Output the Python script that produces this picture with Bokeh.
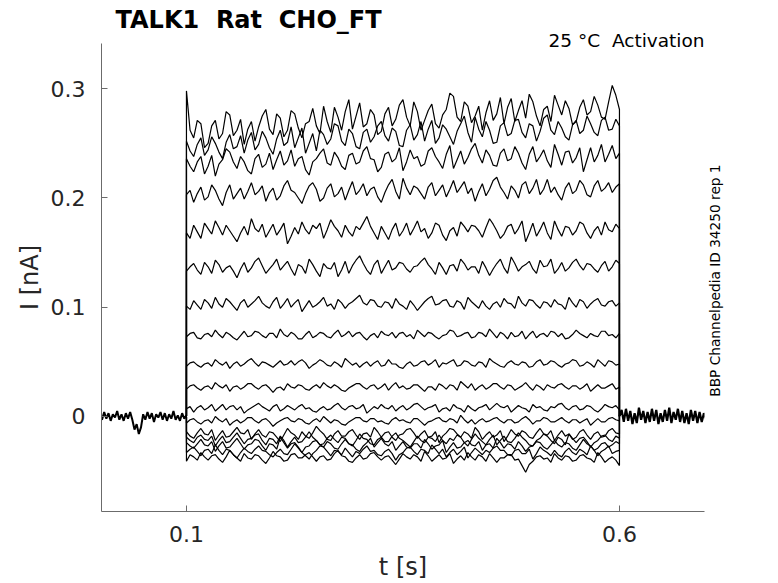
import numpy as np
from bokeh.plotting import figure
from bokeh.models import FixedTicker, Range1d, ColumnDataSource, LinearAxis, Title
from bokeh.embed import file_html
from bokeh.resources import INLINE

# ---------------- texts / ticks ----------------
title_text = "TALK1  Rat  CHO_FT"
condition_text = "25 \u00b0C  Activation"
source_text = "BBP Channelpedia ID 34250 rep 1"
x_label = "t [s]"
y_label = "I [nA]"
x_ticks = [0.1, 0.6]
x_tick_labels = ["0.1", "0.6"]
y_ticks = [0.0, 0.1, 0.2, 0.3]
y_tick_labels = ["0", "0.1", "0.2", "0.3"]

# ---------------- timing (s) ----------------
record_start = 0.0
step_start = 0.1
step_end = 0.6
record_end = 0.7

# ---------------- currents (pA) ----------------
baseline_pre_pA = [1, -3, 4, -2, 3, -4, 2, -1, 5, -3, 2, -4, 3, -2, 4,
                   -3, -12, -7, -16, -10, 2,
                   -3, 4, -2, 3, -5, 2, -1, 4, -3, 3, -4, 2, -2, 5, -3, 1, -4, 3, -2, 1]
baseline_post_pA = [0, 6, -5, 7, -4, 5, -7, 3, -6, 8, -3, 5, -6, 4, -5, 7, -4, 6, -7, 3,
                    -5, 6, -4, 8, -6, 4, -3, 7, -5, 5, -6, 3, -7, 6, -4, 5, -6, 4, -5, 3, -2]

sweep_01_pA = [298, 262, 255, 271, 268, 246, 250, 266, 271, 254, 259, 279, 276, 257, 262, 272, 249, 263, 270, 252,
               265, 275, 281, 263, 258, 277, 273, 256, 262, 280, 277, 264, 255, 268, 270, 282, 266, 259, 284, 270,
               260, 283, 274, 262, 279, 290, 263, 275, 287, 265, 268, 281, 276, 258, 261, 277, 283, 266, 272, 285,
               290, 274, 266, 288, 279, 262, 271, 280, 286, 268, 264, 276, 281, 296, 293, 274, 270, 288, 284, 269,
               275, 284, 262, 278, 289, 271, 277, 292, 268, 283, 291, 270, 280, 289, 273, 295, 288, 275, 266, 281,
               284, 270, 294, 285, 276, 289, 282, 267, 270, 283, 290, 276, 279, 293, 285, 274, 272, 288, 303, 294, 281]
sweep_02_pA = [252, 243, 238, 249, 255, 239, 244, 256, 250, 242, 236, 251, 258, 245, 247, 257, 241, 253, 260, 244,
               249, 261, 255, 246, 240, 254, 262, 248, 251, 265, 246, 255, 264, 241, 250, 259, 243, 262, 258, 249,
               254, 268, 266, 252, 248, 263, 259, 247, 245, 260, 263, 251, 256, 266, 270, 257, 252, 264, 261, 248,
               247, 262, 267, 253, 258, 270, 252, 263, 271, 250, 255, 267, 263, 256, 249, 261, 268, 275, 260, 251,
               274, 263, 256, 270, 262, 250, 251, 266, 269, 257, 259, 271, 272, 260, 255, 268, 266, 252, 261, 273,
               276, 262, 258, 270, 264, 256, 253, 267, 271, 259, 262, 275, 268, 260, 257, 271, 274, 262, 263, 272, 266]
sweep_03_pA = [236, 229, 224, 233, 238, 222, 229, 239, 220, 231, 235, 245, 242, 233, 227, 238, 233, 225, 222, 236,
               240, 228, 231, 241, 226, 235, 243, 230, 234, 244, 229, 236, 238, 226, 221, 233, 236, 241, 245, 232,
               230, 242, 237, 229, 226, 239, 241, 231, 233, 243, 247, 236, 235, 224, 228, 240, 242, 233, 236, 246,
               225, 233, 244, 236, 238, 229, 231, 243, 246, 238, 233, 227, 240, 248, 227, 235, 243, 231, 237, 245,
               250, 239, 232, 244, 239, 230, 229, 241, 245, 234, 236, 247, 241, 232, 226, 240, 247, 233, 238, 244,
               234, 228, 249, 240, 230, 242, 243, 232, 237, 246, 224, 235, 246, 233, 239, 249, 233, 240, 248, 236, 241]
sweep_04_pA = [203, 207, 196, 204, 210, 198, 201, 212, 207, 199, 193, 205, 212, 199, 204, 209, 199, 206, 214, 203,
               206, 211, 197, 205, 209, 198, 202, 211, 216, 207, 205, 200, 195, 204, 211, 214, 208, 197, 200, 209,
               213, 201, 204, 210, 198, 207, 215, 203, 207, 213, 202, 208, 210, 201, 196, 205, 212, 217, 206, 199,
               218, 209, 203, 211, 209, 204, 199, 210, 214, 202, 207, 212, 201, 208, 216, 205, 210, 215, 204, 209,
               197, 206, 213, 202, 208, 216, 219, 210, 205, 199, 211, 207, 200, 212, 215, 204, 209, 217, 203, 208,
               217, 205, 210, 203, 198, 209, 214, 204, 207, 216, 212, 203, 201, 211, 216, 206, 209, 214, 205, 210, 213]
sweep_05_pA = [168, 163, 175, 169, 163, 177, 172, 167, 179, 173, 166, 175, 170, 165, 160, 168, 174, 166, 181, 172,
               169, 176, 164, 170, 176, 166, 171, 177, 158, 165, 173, 167, 178, 171, 167, 175, 172, 177, 163, 171,
               180, 174, 170, 164, 175, 169, 165, 174, 171, 177, 183, 174, 168, 162, 174, 168, 162, 171, 177, 165,
               170, 177, 166, 172, 179, 169, 172, 163, 168, 177, 175, 166, 161, 170, 173, 165, 178, 174, 169, 175,
               174, 170, 164, 173, 181, 176, 170, 163, 167, 174, 176, 167, 172, 179, 160, 168, 177, 165, 171, 178,
               168, 162, 179, 171, 165, 174, 173, 166, 170, 178, 176, 168, 163, 170, 174, 166, 178, 171, 169, 176, 172]
sweep_06_pA = [133, 137, 140, 134, 130, 141, 137, 131, 143, 139, 132, 136, 138, 133, 127, 135, 141, 132, 136, 142,
               145, 138, 131, 135, 139, 144, 134, 138, 142, 135, 129, 139, 137, 131, 144, 139, 133, 128, 140, 136,
               135, 141, 128, 134, 142, 131, 138, 143, 147, 140, 134, 130, 139, 143, 131, 137, 143, 134, 136, 141,
               140, 135, 132, 137, 138, 142, 145, 139, 135, 130, 141, 136, 130, 138, 139, 133, 144, 140, 134, 137,
               137, 131, 142, 136, 129, 135, 140, 144, 136, 131, 146, 140, 133, 137, 139, 142, 135, 131, 143, 137,
               138, 144, 131, 135, 141, 133, 136, 141, 144, 138, 134, 140, 139, 135, 132, 138, 142, 133, 137, 143, 140]
sweep_07_pA = [101, 98, 106, 102, 98, 107, 104, 99, 109, 103, 100, 108, 105, 101, 97, 104, 107, 100, 103, 106,
               110, 104, 101, 99, 105, 109, 99, 103, 108, 100, 104, 107, 96, 101, 106, 100, 102, 105, 109, 101,
               103, 98, 107, 104, 99, 103, 105, 108, 111, 104, 102, 107, 106, 101, 100, 105, 104, 99, 108, 103,
               101, 98, 106, 102, 97, 101, 105, 108, 110, 102, 103, 106, 107, 101, 100, 106, 104, 98, 109, 105,
               102, 99, 106, 101, 98, 103, 105, 100, 108, 104, 103, 99, 110, 104, 101, 107, 106, 102, 99, 105,
               104, 100, 107, 103, 102, 98, 109, 104, 100, 107, 105, 99, 103, 106, 108, 102, 101, 105, 106, 101, 104]
sweep_08_pA = [73, 76, 77, 72, 71, 75, 76, 73, 79, 75, 72, 77, 75, 72, 70, 74, 78, 73, 74, 78,
               77, 74, 72, 76, 76, 72, 80, 75, 73, 77, 75, 71, 71, 75, 78, 72, 74, 77, 76, 73,
               72, 76, 79, 73, 75, 78, 73, 76, 77, 73, 70, 74, 76, 72, 78, 75, 74, 77, 72, 76,
               77, 73, 75, 71, 79, 76, 73, 77, 76, 73, 71, 74, 75, 79, 78, 73, 74, 76, 77, 72,
               73, 77, 76, 73, 80, 76, 72, 77, 75, 71, 77, 73, 74, 78, 71, 75, 78, 72, 75, 76,
               73, 78, 77, 73, 76, 71, 72, 75, 79, 76, 74, 72, 76, 74, 73, 78, 78, 74, 75, 72, 76]
sweep_09_pA = [46, 49, 50, 47, 45, 48, 49, 46, 52, 49, 47, 50, 44, 48, 50, 46, 48, 51, 53, 49,
               46, 50, 49, 47, 45, 48, 51, 47, 48, 51, 47, 50, 52, 49, 44, 47, 49, 52, 50, 47,
               46, 50, 48, 45, 53, 50, 47, 49, 45, 48, 50, 46, 49, 51, 46, 47, 52, 48, 48, 45,
               44, 48, 50, 46, 47, 50, 51, 47, 49, 52, 45, 49, 48, 50, 52, 46, 47, 51, 50, 47,
               46, 50, 49, 45, 53, 50, 48, 46, 45, 49, 51, 48, 47, 50, 49, 45, 46, 50, 52, 47,
               48, 51, 50, 47, 45, 48, 49, 52, 51, 46, 47, 50, 48, 45, 52, 49, 46, 51, 50, 47, 48]
sweep_10_pA = [25, 28, 29, 26, 24, 27, 28, 25, 31, 28, 26, 29, 23, 27, 28, 25, 27, 30, 30, 27,
               25, 28, 29, 26, 22, 26, 27, 24, 30, 27, 26, 29, 28, 25, 24, 27, 29, 26, 31, 28,
               26, 29, 27, 24, 23, 26, 28, 30, 30, 27, 25, 28, 29, 25, 27, 30, 24, 28, 31, 26,
               28, 25, 26, 29, 29, 26, 23, 27, 27, 24, 30, 28, 25, 29, 28, 24, 32, 29, 26, 30,
               24, 27, 29, 25, 27, 30, 30, 27, 25, 29, 28, 24, 26, 28, 31, 27, 24, 29, 27, 24,
               29, 27, 26, 29, 30, 27, 25, 28, 28, 25, 27, 30, 23, 26, 29, 26, 26, 28, 30, 25, 27]
sweep_11_pA = [7, 9, 4, 8, 10, 6, 8, 11, 5, 8, 11, 6, 9, 10, 6, 9, 3, 6, 8, 10,
               12, 9, 7, 5, 9, 11, 5, 7, 10, 8, 6, 9, 11, 7, 8, 5, 4, 7, 9, 6,
               7, 10, 12, 8, 6, 9, 10, 7, 8, 11, 3, 6, 9, 7, 11, 8, 7, 10, 5, 8,
               10, 6, 8, 11, 12, 9, 6, 8, 9, 11, 4, 7, 8, 5, 11, 8, 7, 4, 10, 7,
               5, 8, 9, 11, 6, 9, 12, 9, 8, 10, 4, 7, 10, 8, 7, 4, 11, 8, 9, 6,
               5, 9, 8, 11, 12, 8, 6, 9, 10, 6, 7, 10, 9, 6, 4, 7, 11, 9, 8, 10, 6]
sweep_12_pA = [-6, -3, -2, -5, -7, -4, -3, -6, 0, -3, -5, -2, -8, -5, -3, -6, -4, -1, -1, -4,
               -6, -3, -2, -5, -9, -6, -4, -2, -1, -4, -5, -2, -3, -6, -7, -4, -2, -5, 0, -3,
               -6, -3, -4, -7, -8, -5, -3, -1, -1, -4, -5, -2, -2, -5, -4, -6, -7, -3, -1, -4,
               -3, -5, -6, -2, -2, -5, -8, -5, -4, -2, -1, -4, -5, -2, -3, -6, 1, -3, -6, -3,
               -7, -4, -2, -5, -4, -2, -1, -4, -6, -3, -3, -6, -5, -2, 0, -3, -7, -4, -4, -1,
               -2, -5, -5, -3, -1, -4, -6, -3, -3, -6, -4, -2, -8, -5, -2, -5, -5, -2, -1, -3, -4]
sweep_13_pA = [-14, -18, -20, -15, -11, -16, -17, -12, -22, -17, -13, -19, -18, -14, -10, -15, -16, -12, -21, -16,
               -12, -17, -19, -14, -15, -19, -23, -17, -11, -15, -17, -21, -14, -18, -20, -15, -9, -13, -16, -21,
               -22, -16, -13, -18, -18, -14, -12, -17, -21, -16, -15, -19, -10, -14, -19, -15, -14, -19, -22, -17,
               -16, -12, -11, -15, -20, -16, -13, -19, -18, -14, -24, -18, -15, -11, -12, -16, -19, -14, -16, -20,
               -10, -14, -21, -17, -14, -19, -17, -13, -23, -18, -12, -16, -18, -13, -15, -19, -20, -15, -11, -16,
               -17, -13, -22, -17, -13, -18, -16, -21, -19, -14, -12, -17, -21, -16, -14, -19, -18, -13, -11, -15, -16]
sweep_14_pA = [-19, -22, -24, -19, -17, -21, -22, -18, -27, -22, -18, -24, -23, -19, -15, -20, -25, -21, -20, -17,
               -16, -22, -26, -20, -21, -25, -18, -22, -28, -23, -19, -24, -23, -19, -14, -19, -22, -26, -25, -20,
               -17, -21, -24, -19, -20, -25, -27, -22, -16, -20, -21, -25, -26, -21, -19, -23, -23, -18, -15, -20,
               -22, -25, -28, -23, -18, -22, -24, -19, -20, -23, -17, -22, -25, -20, -22, -17, -19, -24, -27, -21,
               -16, -20, -23, -26, -21, -17, -26, -22, -18, -23, -24, -20, -15, -19, -22, -26, -27, -22, -20, -16,
               -18, -22, -25, -19, -21, -26, -16, -20, -24, -20, -19, -23, -28, -24, -22, -18, -17, -21, -23, -18, -20]
sweep_15_pA = [-24, -27, -29, -25, -21, -26, -27, -23, -32, -27, -23, -29, -28, -24, -20, -25, -30, -26, -25, -21,
               -22, -27, -31, -25, -26, -30, -19, -24, -29, -25, -24, -28, -33, -28, -27, -23, -22, -26, -28, -23,
               -25, -29, -30, -25, -21, -25, -26, -30, -32, -27, -24, -20, -28, -24, -20, -25, -27, -23, -31, -27,
               -23, -28, -29, -25, -25, -29, -21, -25, -30, -27, -26, -22, -33, -28, -24, -29, -28, -24, -22, -26,
               -27, -23, -31, -26, -25, -29, -20, -24, -29, -25, -26, -30, -23, -27, -32, -28, -27, -23, -24, -28,
               -30, -26, -22, -26, -28, -24, -25, -29, -31, -26, -21, -25, -27, -31, -29, -25, -24, -28, -26, -23, -25]
sweep_16_pA = [-33, -30, -28, -32, -36, -31, -30, -34, -26, -31, -35, -30, -31, -35, -38, -33, -29, -32, -34, -30,
               -27, -31, -32, -35, -37, -33, -30, -34, -35, -30, -25, -29, -33, -36, -39, -34, -31, -27, -28, -32,
               -36, -31, -32, -35, -29, -33, -37, -32, -34, -30, -27, -32, -31, -35, -36, -32, -30, -34, -40, -35,
               -33, -29, -28, -32, -35, -30, -31, -34, -26, -30, -34, -30, -37, -33, -30, -35, -32, -28, -38, -33,
               -29, -32, -35, -31, -33, -29, -27, -31, -31, -35, -36, -31, -30, -34, -34, -30, -39, -34, -28, -31,
               -33, -36, -31, -35, -37, -32, -29, -33, -35, -30, -32, -35, -27, -31, -36, -32, -30, -27, -34, -32, -31]
sweep_17_pA = [-41, -35, -37, -40, -33, -37, -40, -36, -35, -39, -42, -37, -31, -35, -38, -41, -34, -38, -39, -35,
               -36, -40, -43, -38, -32, -36, -37, -41, -40, -35, -34, -38, -38, -35, -33, -37, -41, -37, -36, -40,
               -39, -34, -31, -36, -37, -41, -42, -38, -35, -39, -38, -34, -33, -37, -40, -37, -36, -40, -44, -39,
               -34, -37, -39, -35, -37, -41, -32, -36, -41, -38, -35, -39, -38, -34, -43, -39, -36, -40, -33, -37,
               -40, -35, -37, -41, -34, -38, -42, -38, -38, -35, -35, -40, -39, -45, -51, -44, -41, -37, -36, -39,
               -38, -42, -34, -38, -40, -36, -37, -41, -40, -36, -35, -38, -39, -42, -33, -37, -42, -39, -37, -40, -45]

sweeps_pA = [sweep_01_pA, sweep_02_pA, sweep_03_pA, sweep_04_pA, sweep_05_pA, sweep_06_pA,
             sweep_07_pA, sweep_08_pA, sweep_09_pA, sweep_10_pA, sweep_11_pA, sweep_12_pA,
             sweep_13_pA, sweep_14_pA, sweep_15_pA, sweep_16_pA, sweep_17_pA]

# ---------------- build sources ----------------
PA_TO_NA = 1e-3
t_pre = np.linspace(record_start, step_start, len(baseline_pre_pA))
t_post = np.linspace(step_end, record_end, len(baseline_post_pA))

xs, ys = [], []
for sw in sweeps_pA:
    t_step = np.linspace(step_start, step_end, len(sw))
    xs.append([step_start] + list(t_step) + [step_end])
    ys.append([0.0] + list(np.array(sw) * PA_TO_NA) + [0.0])
sweep_src = ColumnDataSource(dict(xs=xs, ys=ys))


def keep_spaces(s):
    # SVG collapses runs of spaces; keep the double spacing visible
    return s.replace("  ", "\u00a0 ")


FONT = "DejaVu Sans"
TXT = "#262626"
AX = "#6b6b6b"

p = figure(width=778, height=583,
           x_range=Range1d(0.0019, 0.6982), y_range=Range1d(-0.087, 0.3414),
           output_backend="svg", toolbar_location=None,
           min_border_left=101, min_border_right=74, min_border_top=43, min_border_bottom=71)
p.outline_line_color = None
p.grid.grid_line_color = None
p.background_fill_color = "white"
p.border_fill_color = "white"

p.line(t_pre, np.array(baseline_pre_pA) * PA_TO_NA, line_color="black", line_width=2.0)
p.line(t_post, np.array(baseline_post_pA) * PA_TO_NA, line_color="black", line_width=2.2)
p.multi_line(xs="xs", ys="ys", source=sweep_src, line_color="black", line_width=1.2)


def make_title(text, size, bold, align, offset, standoff):
    t = Title(text=keep_spaces(text), text_font=FONT, text_font_size=size,
              text_font_style="bold" if bold else "normal", text_color="black",
              align=align, offset=offset)
    try:
        t.standoff = standoff
    except Exception:
        t.standoff = 0
    return t


# nearest the frame first: condition note (right), then the main title (left)
p.add_layout(make_title(condition_text, "18.5px", False, "right", 0, -14.6), "above")
p.add_layout(make_title(title_text, "24px", True, "left", 14, 4), "above")

# axes
for ax in (p.xaxis[0], p.yaxis[0]):
    ax.axis_line_color = AX
    ax.major_tick_line_color = AX
    ax.major_tick_in = 6
    ax.major_tick_out = 0
    ax.minor_tick_line_color = None
    ax.major_label_text_font = FONT
    ax.major_label_text_font_size = "22px"
    ax.major_label_text_color = TXT
    ax.axis_label_text_font = FONT
    ax.axis_label_text_font_size = "24px"
    ax.axis_label_text_font_style = "normal"
    ax.axis_label_text_color = TXT

p.xaxis.ticker = FixedTicker(ticks=x_ticks)
p.xaxis.major_label_overrides = dict(zip(x_ticks, x_tick_labels))
p.xaxis.axis_label = x_label
p.xaxis.major_label_standoff = 14
p.xaxis.axis_label_standoff = 8

p.yaxis.ticker = FixedTicker(ticks=y_ticks)
p.yaxis.major_label_overrides = dict(zip(y_ticks, y_tick_labels))
p.yaxis.axis_label = y_label
p.yaxis.major_label_standoff = 16
p.yaxis.axis_label_standoff = 4

# rotated source note on the right side (as the label of a bare right axis)
source_y = 0.0181
rax = LinearAxis(ticker=FixedTicker(ticks=[source_y]),
                 major_label_overrides={source_y: source_text},
                 axis_line_color=None, major_tick_line_color=None, minor_tick_line_color=None,
                 major_tick_in=0, major_tick_out=0,
                 major_label_orientation=np.pi / 2, major_label_standoff=11,
                 major_label_text_font=FONT, major_label_text_font_size="13.7px",
                 major_label_text_color="black")
p.add_layout(rax, "right")

open("out.html", "w").write(file_html(p, INLINE))
